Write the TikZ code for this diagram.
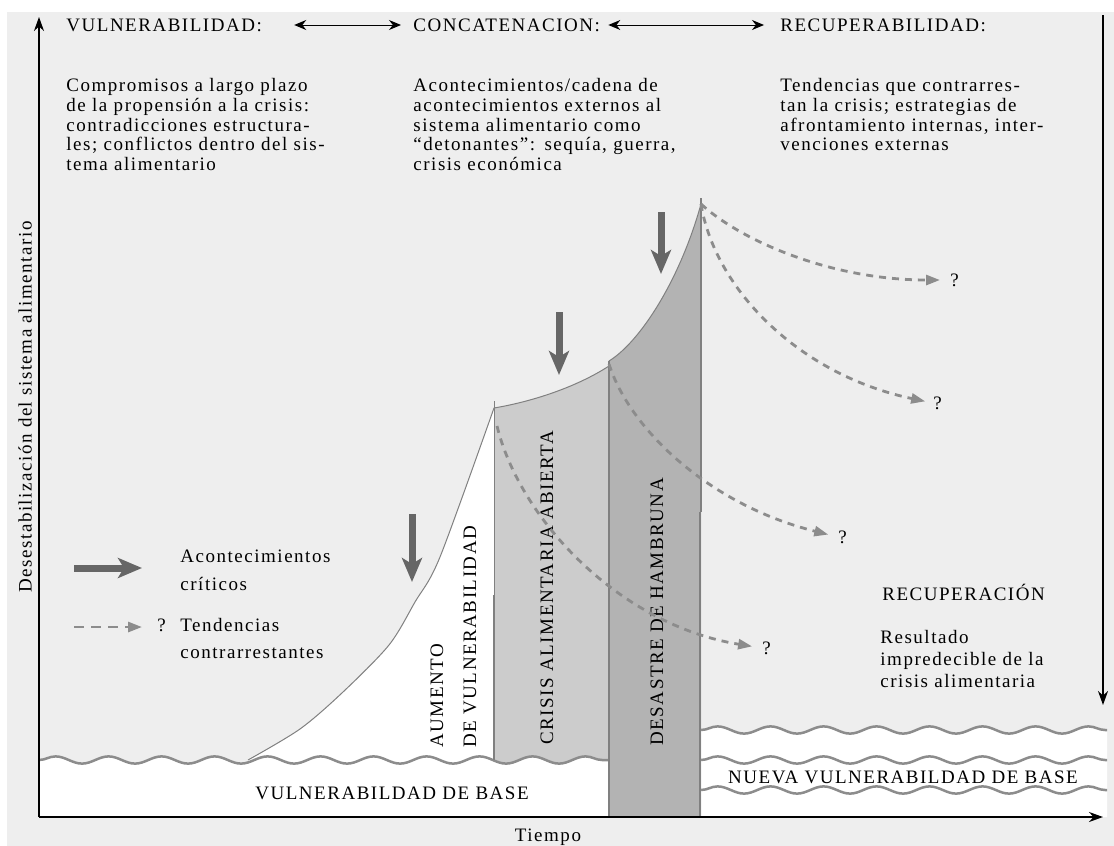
\documentclass[tikz,border=0pt]{standalone}
\usepackage{fontspec}
\setmainfont{Liberation Serif}[LetterSpace=8, Ligatures={TeX,NoCommon}]
\usetikzlibrary{arrows.meta}
\usetikzlibrary{decorations.pathmorphing}

\definecolor{bgcol}{HTML}{EEEEEE}
\definecolor{crisiscol}{HTML}{CCCCCC}
\definecolor{hambcol}{HTML}{B3B3B3}
\definecolor{edgecol}{HTML}{808080}
\definecolor{evcol}{HTML}{666666}
\definecolor{trendcol}{HTML}{8C8C8C}

\newcommand{\justline}[1]{\makebox[\hsize][s]{#1}}

\tikzset{
  txt/.style={inner sep=0pt, font=\fontsize{9.5}{9.9}\selectfont},
  para/.style={txt, anchor=north west, align=left, text width=#1},
  vlabel/.style={txt, rotate=90, anchor=west},
  hdarrow/.style={{Stealth[length=6pt,width=5pt]}-{Stealth[length=6pt,width=5pt]}, line width=0.5pt},
  axis/.style={-{Stealth[length=7pt,width=5pt]}, line width=0.9pt},
  event/.style={-{Stealth[length=12pt,width=10pt,inset=3pt]}, line width=3.5pt, evcol},
  trend/.style={-{Triangle[length=7pt,width=5pt]}, line width=1.4pt, trendcol, dash pattern=on 3.5pt off 3pt},
  wavedec/.style={decoration={snake, segment length=26.5pt, amplitude=1.8pt}},
  wave/.style={trendcol, line width=1.25pt, decorate, wavedec},
}

\begin{document}
\begin{tikzpicture}[x=0.5pt,y=-0.5pt]
    \useasboundingbox (0,0) rectangle (1114,846);
    \fill[white] (0,0) rectangle (1114,846);
    \fill[bgcol] (7,12) rectangle (1114,846);

    % named corners of the curve
    \coordinate (aumtop) at (494,408);
    \coordinate (crisistop) at (609,364);
    \coordinate (peak) at (701,204);

    % aumento de vulnerabilidad
    \fill[white] plot[smooth, tension=0.5] coordinates {(248,760) (300,729) (343,692) (389,645) (415,602) (440,557) (aumtop)} -- (494,770) -- (248,770) -- cycle;
    \draw[edgecol, line width=0.5pt] plot[smooth, tension=0.5] coordinates {(248,760) (300,729) (343,692) (389,645) (415,602) (440,557) (aumtop)};

    % crisis alimentaria abierta
    \fill[crisiscol] (aumtop) .. controls (530,402) and (575,388) .. (609,366) -- (609,817) -- (494,817) -- cycle;
    \draw[edgecol, line width=0.5pt] (aumtop) .. controls (530,402) and (575,388) .. (609,366);

    % base bands
    \fill[white] (39,817) -- (39,760) decorate[wavedec] {-- (609,760)} -- (609,817) -- cycle;
    \draw[wave] (39,760) -- (609,760);
    \fill[white] (701,817) -- (701,730) decorate[wavedec] {-- (1107,730)} -- (1107,817) -- cycle;
    \draw[wave] (701,730) -- (1107,730);
    \draw[wave] (701,760) -- (1107,760);
    \draw[wave] (701,790) -- (1107,790);

    % desastre de hambruna
    \fill[hambcol] (609,361) .. controls (640,342) and (680,280) .. (peak) -- (701,817) -- (609,817) -- cycle;
    \draw[edgecol, line width=0.5pt] (609,361) .. controls (640,342) and (680,280) .. (peak);

    % dividing lines
    \draw[edgecol, line width=0.5pt] (494,401) -- (494,760);
    \draw[edgecol, line width=1.2pt] (494,595) -- (494,760);
    \draw[edgecol, line width=0.6pt] (609,361) -- (609,817);
    \draw[edgecol, line width=1pt] (701,198) -- (701,512);
    \draw[edgecol, line width=0.6pt] (700,512) -- (700,817);

    % axes
    \coordinate (o) at (39,817);
    \coordinate (ytip) at (39,17);
    \coordinate (xtip) at (1103,817);
    \coordinate (rtop) at (1103,15);
    \coordinate (rtip) at (1103,705);
    \draw[axis] (o) -- (ytip);
    \draw[axis] (o) -- (xtip);
    \draw[axis] (rtop) -- (rtip);

    % headings
    \node[txt, anchor=west] (vuln) at (66,25) {VULNERABILIDAD:};
    \node[txt, anchor=west] (conc) at (413,25) {CONCATENACION:};
    \node[txt, anchor=west] (recup) at (780,25) {RECUPERABILIDAD:};
    \draw[hdarrow] ([xshift=16pt]vuln.east) -- ([xshift=-6pt]conc.west);
    \draw[hdarrow] ([xshift=4pt]conc.east) -- ([xshift=-8pt]recup.west);

    \node[para=142pt] (vulntxt) at (66,78) {\justline{Compromisos a largo plazo}\\ \justline{de la propensión a la crisis:}\\ \justline{contradicciones estructura-}\\ \justline{les; conflictos dentro del sis-}\\ tema alimentario};
    \node[para=144pt] (conctxt) at (413,78) {\justline{Acontecimientos/cadena de}\\ \justline{acontecimientos externos al}\\ \justline{sistema alimentario como}\\ \justline{“detonantes”: sequía, guerra,}\\ crisis económica};
    \node[para=144pt] (recuptxt) at (780,78) {\justline{Tendencias que contrarres-}\\ \justline{tan la crisis; estrategias de}\\ \justline{afrontamiento internas, inter-}\\ venciones externas};

    % stage labels
    \node[vlabel] (aum1) at (437,748) {AUMENTO};
    \node[vlabel] (aum2) at (470,748) {DE VULNERABILIDAD};
    \node[vlabel] (crisis) at (547,745) {CRISIS ALIMENTARIA ABIERTA};
    \node[vlabel] (desastre) at (657,746) {DESASTRE DE HAMBRUNA};
    \node[vlabel] (ylabel) at (25,593) {Desestabilización del sistema alimentario};
    \node[txt] (base) at (392,793) {VULNERABILDAD DE BASE};
    \node[txt] (newbase) at (903,777) {NUEVA VULNERABILDAD DE BASE};
    \node[txt, anchor=base] (tiempo) at (548,841) {Tiempo};
    \node[txt, anchor=west] (recov) at (882,592) {RECUPERACIÓN};
    \node[para=110pt, font=\fontsize{9.5}{11}\selectfont] (recovtxt) at (880,630) {Resultado\\ impredecible de la\\ crisis alimentaria};

    % critical events
    \foreach \n/\x/\ya/\yb in {1/412/514/582, 2/559/312/375, 3/661/212/274} {
        \coordinate (ev\n s) at (\x,\ya);
        \coordinate (ev\n e) at (\x,\yb);
        \draw[event] (ev\n s) -- (ev\n e);
    }

    % counteracting trends
    \node[txt, anchor=west] (q1) at (762,648) {?};
    \node[txt, anchor=west] (q2) at (838,537) {?};
    \node[txt, anchor=west] (q3) at (933,403) {?};
    \node[txt, anchor=west] (q4) at (950,280) {?};
    \coordinate (t1) at (497,426);
    \draw[trend, shorten >=5pt] (t1) .. controls (520,520) and (620,625) .. (q1.west);
    \draw[trend, shorten >=5pt] (crisistop) .. controls (630,430) and (710,505) .. (q2.west);
    \draw[trend, shorten >=4pt] (peak) .. controls (715,290) and (800,375) .. (q3.west);
    \draw[trend, shorten >=5pt] (peak) .. controls (740,240) and (830,280) .. (q4.west);

    % legend
    \coordinate (lg1s) at (74,568);
    \coordinate (lg1e) at (142,568);
    \coordinate (lg2s) at (74,627);
    \coordinate (lg2e) at (142,627);
    \draw[event] (lg1s) -- (lg1e);
    \draw[trend, dash pattern=on 5pt off 3.5pt] (lg2s) -- (lg2e);
    \node[txt, anchor=west] (lgq) at (157,625) {?};
    \node[para=100pt, font=\fontsize{9.5}{14}\selectfont] (lgev) at (180,550) {Acontecimientos\\ críticos};
    \node[para=100pt, font=\fontsize{9.5}{13.5}\selectfont] (lgtr) at (180,618) {Tendencias\\ contrarrestantes};
\end{tikzpicture}
\end{document}
